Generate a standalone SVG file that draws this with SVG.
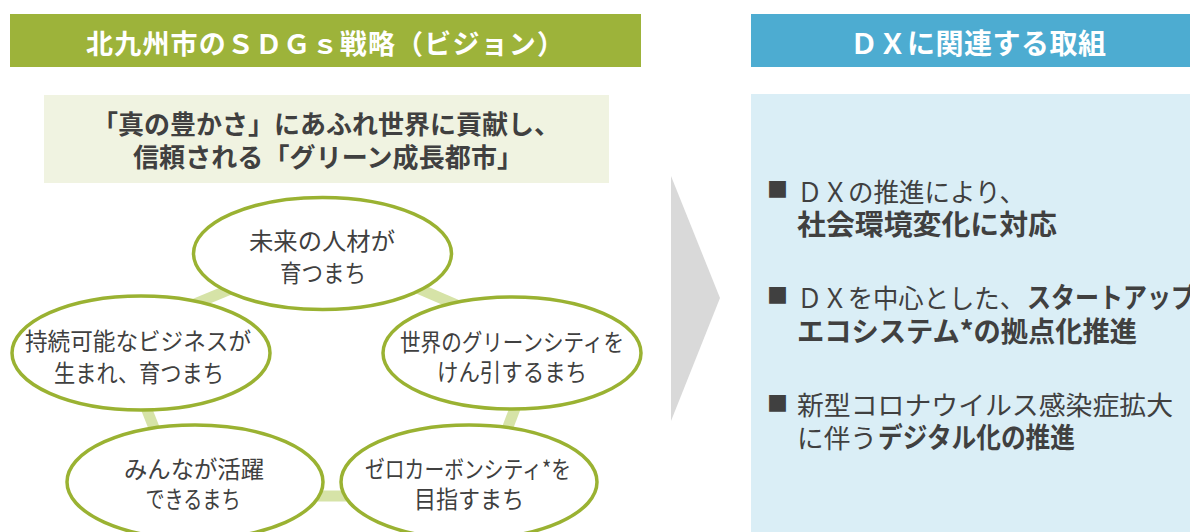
<svg xmlns="http://www.w3.org/2000/svg" width="1190" height="532" viewBox="0 0 1190 532">
<style>
text{font-family:"Noto Sans CJK JP","Noto Sans",sans-serif;dominant-baseline:central}
.hd{fill:#ffffff;font-weight:700;font-size:27px;text-anchor:middle}
.vis{fill:#404040;font-weight:700;font-size:26px;text-anchor:middle}
.nd{fill:#ffffff;stroke:#9AB232;stroke-width:3.5}
.nt{fill:#404040;font-size:23.5px;text-anchor:middle}
.ring{stroke:#D6E3A7;stroke-width:11;fill:none}
.bt{fill:#404040;font-size:26.5px}
.bb{fill:#404040;font-size:28px;font-weight:700}
.bul{fill:#404040;font-size:21px}
</style>
<rect width="1190" height="532" fill="#ffffff"/>
<g id="left-header">
<rect x="10" y="14" width="631" height="53" fill="#9DB33A"/>
<text class="hd" x="325" y="42" textLength="478">北九州市のＳＤＧｓ戦略（ビジョン）</text>
</g>
<g id="vision">
<rect x="44" y="95" width="565" height="88" fill="#F0F3E1"/>
<text class="vis" x="326" y="122.5" textLength="468">「真の豊かさ」にあふれ世界に貢献し、</text>
<text class="vis" x="328" y="155" textLength="390">信頼される「グリーン成長都市」</text>
</g>
<g id="connectors">
<line class="ring" x1="185" y1="308" x2="250" y2="281"/>
<line class="ring" x1="401" y1="281" x2="466" y2="309"/>
<line class="ring" x1="141" y1="395" x2="162" y2="448"/>
<line class="ring" x1="520" y1="395" x2="500" y2="448"/>
<line class="ring" x1="300" y1="496" x2="365" y2="496"/>
</g>
<g id="node-top">
<ellipse class="nd" cx="322.5" cy="253.5" rx="129" ry="56"/>
<text class="nt" x="322" y="240" textLength="146" lengthAdjust="spacingAndGlyphs">未来の人材が</text>
<text class="nt" x="323" y="272" textLength="86" lengthAdjust="spacingAndGlyphs">育つまち</text>
</g>
<g id="node-left">
<ellipse class="nd" cx="141" cy="353" rx="129" ry="57"/>
<text class="nt" x="138" y="340" textLength="226" lengthAdjust="spacingAndGlyphs">持続可能なビジネスが</text>
<text class="nt" x="139" y="372" textLength="170" lengthAdjust="spacingAndGlyphs">生まれ、育つまち</text>
</g>
<g id="node-right">
<ellipse class="nd" cx="512" cy="353" rx="129" ry="56"/>
<text class="nt" x="512" y="341" textLength="224" lengthAdjust="spacingAndGlyphs">世界のグリーンシティを</text>
<text class="nt" x="512" y="371" textLength="150" lengthAdjust="spacingAndGlyphs">けん引するまち</text>
</g>
<g id="node-bottom-left">
<ellipse class="nd" cx="195" cy="482" rx="128" ry="57"/>
<text class="nt" x="194" y="468" textLength="140" lengthAdjust="spacingAndGlyphs">みんなが活躍</text>
<text class="nt" x="193" y="498" textLength="95" lengthAdjust="spacingAndGlyphs">できるまち</text>
</g>
<g id="node-bottom-right">
<ellipse class="nd" cx="469" cy="482" rx="128" ry="57"/>
<text class="nt" x="468" y="468" textLength="206" lengthAdjust="spacingAndGlyphs">ゼロカーボンシティ*を</text>
<text class="nt" x="469" y="498" textLength="110" lengthAdjust="spacingAndGlyphs">目指すまち</text>
</g>
<g id="arrow">
<polygon points="671,176 720,298 671,421" fill="#D9D9D9"/>
</g>
<g id="right-header">
<rect x="751" y="14" width="439" height="53" fill="#4DACD1"/>
<text class="hd" x="978" y="41.5" style="font-size:28px" textLength="256">ＤＸに関連する取組</text>
</g>
<g id="dx-panel">
<rect x="751" y="94" width="439" height="438" fill="#DAEEF6"/>
<text class="bul" x="767" y="188">■</text>
<text class="bt" x="797" y="190" textLength="228" lengthAdjust="spacingAndGlyphs">ＤＸの推進により、</text>
<text class="bb" x="797" y="223" textLength="260" lengthAdjust="spacingAndGlyphs">社会環境変化に対応</text>
<text class="bul" x="767" y="294">■</text>
<text class="bt" x="797" y="296" textLength="228" lengthAdjust="spacingAndGlyphs">ＤＸを中心とした、</text>
<text class="bb" x="1027" y="296" textLength="168" lengthAdjust="spacingAndGlyphs">スタートアップ</text>
<text class="bb" x="797" y="330" textLength="340" lengthAdjust="spacingAndGlyphs">エコシステム*の拠点化推進</text>
<text class="bul" x="767" y="402">■</text>
<text class="bt" x="797" y="403" textLength="376" lengthAdjust="spacingAndGlyphs">新型コロナウイルス感染症拡大</text>
<text class="bt" x="797" y="436" textLength="80" lengthAdjust="spacingAndGlyphs">に伴う</text>
<text class="bb" x="878" y="436" textLength="197" lengthAdjust="spacingAndGlyphs">デジタル化の推進</text>
</g>
</svg>
